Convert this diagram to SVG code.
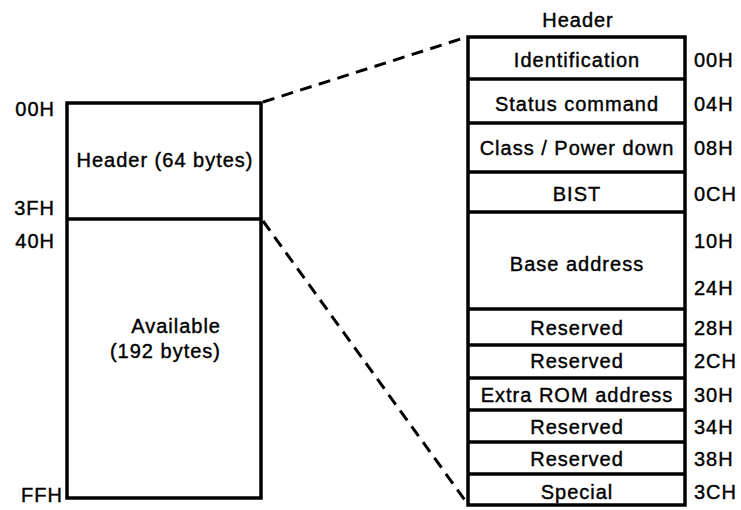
<svg xmlns="http://www.w3.org/2000/svg" width="741" height="510" viewBox="0 0 741 510">
  <style>
    .box { fill: #fff; stroke: #000; stroke-width: 3.5; }
    .rule { stroke: #000; stroke-width: 3.5; fill: none; }
    .dash { stroke: #000; stroke-width: 3; fill: none; stroke-dasharray: 12 7.5; }
    text { font-family: "Liberation Sans", Arial, Helvetica, sans-serif; font-size: 20px; letter-spacing: 1px; fill: #000; stroke: #000; stroke-width: 0.4; }
    .c { text-anchor: middle; }
    .e { text-anchor: end; }
  </style>
  <rect width="741" height="510" fill="#fff"/>

  <!-- Connectors: zoom lines from the header region to the detailed table -->
  <g id="connectors">
    <line class="dash" x1="263" y1="102" x2="467" y2="37"/>
    <line class="dash" x1="263" y1="221" x2="467" y2="503"/>
  </g>

  <!-- Configuration space overview (256 bytes) -->
  <g id="config-space">
    <rect class="box" x="67" y="103" width="194" height="395"/>
    <line class="rule" x1="67" y1="219" x2="261" y2="219"/>
    <text class="e" x="55" y="116">00H</text>
    <text class="e" x="55" y="215">3FH</text>
    <text class="e" x="55" y="248">40H</text>
    <text class="e" x="63" y="502">FFH</text>
  </g>
  <g id="header-region">
    <text class="c" x="165" y="167">Header (64 bytes)</text>
  </g>
  <g id="available-region">
    <text class="e" x="221" y="333">Available</text>
    <text class="e" x="221" y="358">(192 bytes)</text>
  </g>

  <!-- Header layout, one register per row -->
  <g id="header-table">
    <text class="c" x="578" y="27">Header</text>
    <rect class="box" x="468" y="37" width="217" height="468"/>
  </g>
  <g id="row-identification">
    <line class="rule" x1="468" y1="79" x2="685" y2="79"/>
    <text class="c" x="577" y="67">Identification</text>
    <text x="694" y="67">00H</text>
  </g>
  <g id="row-status">
    <line class="rule" x1="468" y1="123" x2="685" y2="123"/>
    <text class="c" x="577" y="111">Status command</text>
    <text x="694" y="111">04H</text>
  </g>
  <g id="row-class">
    <line class="rule" x1="468" y1="172" x2="685" y2="172"/>
    <text class="c" x="577" y="155">Class / Power down</text>
    <text x="694" y="155">08H</text>
  </g>
  <g id="row-bist">
    <line class="rule" x1="468" y1="212" x2="685" y2="212"/>
    <text class="c" x="577" y="201">BIST</text>
    <text x="694" y="201">0CH</text>
  </g>
  <g id="row-base-address">
    <line class="rule" x1="468" y1="309" x2="685" y2="309"/>
    <text class="c" x="577" y="271">Base address</text>
    <text x="694" y="248">10H</text>
    <text x="694" y="295">24H</text>
  </g>
  <g id="row-reserved-28">
    <line class="rule" x1="468" y1="345" x2="685" y2="345"/>
    <text class="c" x="577" y="335">Reserved</text>
    <text x="694" y="335">28H</text>
  </g>
  <g id="row-reserved-2c">
    <line class="rule" x1="468" y1="378" x2="685" y2="378"/>
    <text class="c" x="577" y="368">Reserved</text>
    <text x="694" y="368">2CH</text>
  </g>
  <g id="row-extra-rom">
    <line class="rule" x1="468" y1="410" x2="685" y2="410"/>
    <text class="c" x="577" y="402">Extra ROM address</text>
    <text x="694" y="402">30H</text>
  </g>
  <g id="row-reserved-34">
    <line class="rule" x1="468" y1="442" x2="685" y2="442"/>
    <text class="c" x="577" y="434">Reserved</text>
    <text x="694" y="434">34H</text>
  </g>
  <g id="row-reserved-38">
    <line class="rule" x1="468" y1="474" x2="685" y2="474"/>
    <text class="c" x="577" y="466">Reserved</text>
    <text x="694" y="466">38H</text>
  </g>
  <g id="row-special">
    <text class="c" x="577" y="499">Special</text>
    <text x="694" y="499">3CH</text>
  </g>
</svg>
